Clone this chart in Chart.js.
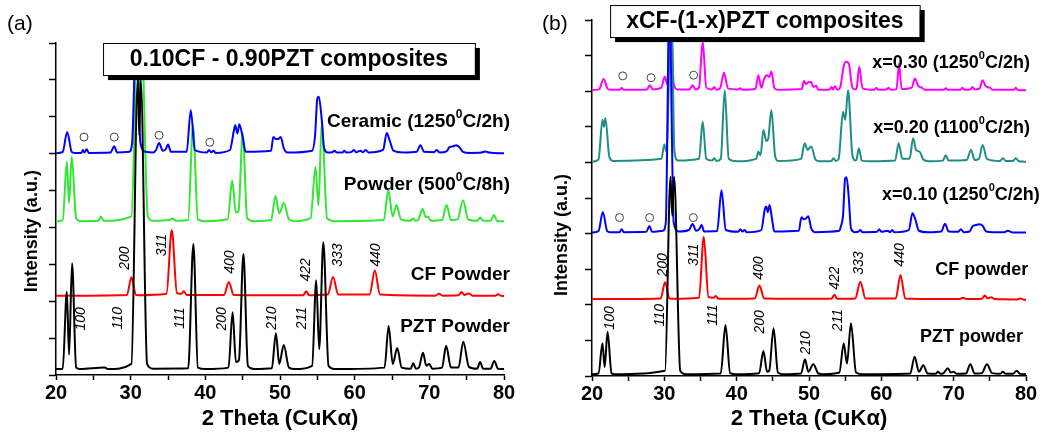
<!DOCTYPE html>
<html>
<head>
<meta charset="utf-8">
<script src="https://cdn.jsdelivr.net/npm/chart.js@4.4.0/dist/chart.umd.min.js"></script>
<style>
  body { margin: 0; background: #fff; }
  #wrapA { position: absolute; left: 0; top: 0; }
  #wrapB { position: absolute; left: 520px; top: 0; }
</style>
</head>
<body>
<div id="wrapA"><canvas id="chartA" width="520" height="433"></canvas></div>
<div id="wrapB"><canvas id="chartB" width="528" height="433"></canvas></div>
<script>
const FONT = "'Liberation Sans', Arial, sans-serif";

// ---- panel (a): 0.10CF - 0.90PZT, [2theta, intensity + offset]
const pztPowderA = [[20,0.16],[20.9,0.17],[21.45,2.26],[21.75,0.55],[22.15,3.03],[22.7,0.2],[23.2,0.16],[26.5,0.2],[27,0.16],[30.1,0.3],[30.95,8.0],[31.15,6.5],[31.35,8.0],[32.2,0.3],[33,0.17],[37.7,0.18],[38.4,3.55],[39.0,0.2],[40,0.16],[43.1,0.2],[43.65,1.7],[44.1,0.35],[44.5,0.4],[45.1,3.28],[45.7,0.25],[46.5,0.16],[48.9,0.18],[49.45,1.13],[49.9,0.3],[50.5,0.81],[51.2,0.2],[52,0.16],[54.3,0.25],[54.85,2.57],[55.25,0.7],[55.8,3.6],[56.5,0.25],[57.5,0.16],[64.0,0.2],[64.55,1.33],[65.1,0.3],[65.7,0.73],[66.3,0.2],[67.5,0.17],[67.85,0.32],[68.2,0.17],[68.6,0.2],[69.15,0.6],[69.6,0.25],[70.0,0.3],[70.4,0.17],[71.7,0.2],[72.25,0.79],[72.9,0.2],[73.9,0.2],[74.55,0.9],[75.3,0.22],[76.4,0.17],[76.8,0.35],[77.2,0.17],[78.2,0.17],[78.7,0.38],[79.2,0.17],[80,0.16]];
const cfPowderA = [[20,2.15],[29.5,2.17],[30.1,2.65],[30.7,2.17],[31,2.16],[34.8,2.2],[35.5,3.93],[36.2,2.22],[36.8,2.2],[37.1,2.27],[37.5,2.17],[42.5,2.17],[43.15,2.52],[43.8,2.17],[53.1,2.16],[53.5,2.27],[53.9,2.16],[56.4,2.18],[57.1,2.66],[57.8,2.18],[62.0,2.18],[62.7,2.83],[63.4,2.18],[70.8,2.15],[71.3,2.2],[71.8,2.15],[73.9,2.16],[74.3,2.25],[74.7,2.17],[75.3,2.21],[75.8,2.15],[78.8,2.15],[79.2,2.19],[79.6,2.15],[80,2.14]];
const powder500A = [[20,4.17],[20.9,4.2],[21.45,5.78],[21.75,4.66],[22.1,5.92],[22.7,4.25],[23.2,4.17],[25.7,4.18],[26.0,4.3],[26.4,4.18],[30.1,4.3],[30.95,9.5],[31.15,7],[31.4,9.5],[32.3,4.3],[33,4.18],[35.2,4.2],[35.6,4.25],[36.1,4.18],[37.7,4.2],[38.35,6.77],[39.0,4.22],[40,4.17],[43.0,4.22],[43.6,5.27],[44.1,4.4],[44.45,4.45],[45.0,6.56],[45.6,4.25],[46.5,4.17],[48.8,4.2],[49.4,4.85],[49.9,4.38],[50.5,4.66],[51.2,4.22],[52,4.17],[54.1,4.25],[54.75,5.64],[55.15,4.6],[55.6,6.86],[56.3,4.25],[57.5,4.17],[63.9,4.2],[64.5,5.01],[65.1,4.3],[65.6,4.61],[66.2,4.22],[67.5,4.18],[67.8,4.25],[68.1,4.18],[68.5,4.2],[69.1,4.5],[69.5,4.28],[69.8,4.3],[70.2,4.18],[71.7,4.2],[72.3,4.61],[72.9,4.2],[73.8,4.22],[74.5,4.74],[75.2,4.22],[76.4,4.18],[76.8,4.27],[77.2,4.18],[78.2,4.18],[78.65,4.34],[79.1,4.17],[80,4.17]];
const ceramicA = [[20,6.01],[20.9,6.05],[21.5,6.59],[22.1,6.05],[22.5,6.02],[23.4,6.02],[23.6,6.1],[23.8,6.03],[24.1,6.12],[24.4,6.02],[27.3,6.03],[27.8,6.2],[28.2,6.03],[29.8,6.05],[30.2,6.3],[30.75,9.5],[31.3,6.3],[32,6.05],[33.0,6.03],[33.4,6.1],[33.8,6.29],[34.3,6.08],[34.7,6.12],[35.0,6.25],[35.4,6.05],[37.5,6.05],[38.05,7.18],[38.6,6.1],[40.2,6.03],[40.5,6.1],[40.8,6.04],[41.1,6.08],[41.4,6.02],[43.3,6.1],[43.8,6.6],[44.0,6.77],[44.3,6.55],[44.55,6.8],[45.0,6.45],[45.4,6.05],[48.8,6.08],[49.1,6.45],[49.4,6.4],[49.8,6.4],[50.1,6.45],[50.5,6.15],[51,6.03],[54.3,6.08],[54.7,6.5],[55.0,7.5],[55.2,7.54],[55.6,6.9],[55.9,6.15],[56.4,6.03],[57.0,6.04],[57.3,6.08],[57.6,6.03],[58.4,6.03],[58.6,6.08],[58.9,6.03],[59.6,6.05],[59.9,6.1],[60.2,6.04],[60.8,6.08],[61.1,6.04],[61.5,6.1],[61.9,6.03],[63.8,6.1],[64.3,6.56],[64.7,6.35],[65.2,6.08],[66.5,6.03],[68.3,6.05],[68.8,6.23],[69.3,6.05],[70.6,6.04],[71.0,6.1],[71.4,6.03],[72.3,6.06],[72.7,6.18],[73.2,6.2],[73.6,6.23],[74.0,6.18],[74.5,6.05],[75.5,6.02],[77.0,6.03],[77.5,6.06],[78.0,6.03],[80,6.01]];
const impurityA = [[23.75,6.45],[27.8,6.45],[33.8,6.5],[40.6,6.31]];

// ---- panel (b): xCF-(1-x)PZT
const pztPowderB = [[20,0.05],[20.9,0.07],[21.45,0.92],[21.75,0.25],[22.15,1.24],[22.7,0.08],[23.2,0.05],[30.1,0.15],[30.85,5.6],[31.1,4.5],[31.35,5.6],[32.2,0.15],[33,0.05],[37.8,0.07],[38.45,1.43],[39.1,0.08],[40,0.05],[43.1,0.08],[43.7,0.7],[44.2,0.12],[44.5,0.15],[45.1,1.34],[45.7,0.1],[46.5,0.05],[48.9,0.07],[49.45,0.47],[49.9,0.12],[50.6,0.33],[51.3,0.07],[52,0.05],[54.2,0.1],[54.8,0.92],[55.25,0.35],[55.8,1.48],[56.5,0.1],[57.5,0.05],[64.0,0.07],[64.6,0.54],[65.2,0.12],[65.8,0.3],[66.4,0.07],[67.5,0.06],[67.85,0.12],[68.2,0.06],[68.6,0.08],[69.2,0.22],[69.6,0.1],[70.0,0.12],[70.4,0.06],[71.7,0.07],[72.3,0.33],[72.9,0.07],[73.9,0.08],[74.6,0.33],[75.3,0.08],[76.4,0.06],[76.8,0.12],[77.2,0.06],[78.2,0.06],[78.7,0.15],[79.2,0.06],[80,0.05]];
const cfPowderB = [[20,2.16],[29.5,2.18],[30.1,2.63],[30.7,2.18],[31,2.17],[34.8,2.2],[35.45,3.91],[36.1,2.22],[36.8,2.2],[37.1,2.25],[37.5,2.17],[42.5,2.18],[43.15,2.54],[43.8,2.18],[53.1,2.17],[53.5,2.28],[53.9,2.17],[56.4,2.18],[57.1,2.65],[57.8,2.18],[62.0,2.18],[62.65,2.84],[63.3,2.18],[70.8,2.16],[71.3,2.2],[71.8,2.16],[73.9,2.17],[74.3,2.26],[74.7,2.18],[75.2,2.21],[75.7,2.16],[78.8,2.15],[79.2,2.18],[79.6,2.15],[80,2.14]];
const x010B = [[20,4.03],[20.9,4.07],[21.5,4.61],[22.1,4.07],[22.5,4.04],[23.8,4.04],[24.1,4.12],[24.4,4.04],[27.5,4.05],[27.95,4.21],[28.3,4.05],[29.8,4.08],[30.2,4.3],[30.7,10.5],[31.3,4.3],[32,4.06],[33.4,4.1],[33.9,4.27],[34.4,4.08],[34.8,4.12],[35.15,4.24],[35.5,4.06],[37.3,4.07],[37.9,5.22],[38.5,4.1],[40.2,4.05],[40.5,4.12],[40.8,4.06],[41.1,4.1],[41.4,4.04],[43.4,4.1],[43.9,4.7],[44.1,4.76],[44.3,4.6],[44.55,4.8],[44.9,4.4],[45.2,4.06],[48.6,4.08],[48.95,4.46],[49.3,4.4],[49.6,4.43],[49.9,4.49],[50.3,4.15],[50.8,4.04],[54.2,4.08],[54.4,4.2],[54.7,4.5],[55.0,5.55],[55.2,5.58],[55.5,5.0],[55.8,4.15],[56.3,4.04],[56.8,4.05],[57.1,4.1],[57.4,4.04],[59.4,4.05],[59.7,4.12],[60.0,4.05],[60.9,4.08],[61.2,4.04],[61.5,4.1],[61.8,4.04],[63.8,4.1],[64.3,4.57],[64.7,4.4],[65.2,4.08],[66.5,4.04],[68.3,4.06],[68.8,4.28],[69.3,4.06],[70.6,4.05],[71.0,4.12],[71.4,4.04],[72.2,4.06],[72.6,4.2],[73.1,4.24],[73.6,4.26],[74.0,4.22],[74.5,4.06],[75.5,4.04],[77.0,4.04],[77.5,4.08],[78.0,4.04],[80,4.03]];
const x020B = [[20,6.02],[20.9,6.08],[21.45,7.2],[21.65,7.0],[21.85,7.24],[22.4,6.15],[22.9,6.04],[29.6,6.1],[30.0,6.5],[30.3,6.3],[30.95,10.5],[31.4,6.3],[31.9,6.05],[34.8,6.1],[35.3,7.14],[35.8,6.1],[36.6,6.05],[36.9,6.12],[37.2,6.04],[37.8,6.1],[38.35,8.03],[38.9,6.1],[40,6.03],[42.7,6.1],[43.0,6.3],[43.3,6.2],[43.7,6.91],[44.1,6.6],[44.35,6.65],[44.8,7.47],[45.3,6.2],[45.7,6.04],[48.9,6.1],[49.4,6.54],[49.8,6.35],[50.3,6.45],[50.9,6.08],[51.5,6.03],[53.1,6.04],[53.4,6.12],[53.7,6.04],[54.1,6.1],[54.7,7.42],[55.0,7.2],[55.4,8.03],[56.0,6.2],[56.4,6.05],[56.6,6.1],[56.9,6.4],[57.3,6.05],[58.5,6.03],[61.9,6.05],[62.4,6.54],[62.9,6.1],[63.9,6.1],[64.4,6.68],[64.8,6.35],[65.3,6.3],[65.8,6.08],[66.5,6.03],[68.5,6.05],[68.9,6.2],[69.3,6.05],[71.8,6.07],[72.4,6.35],[72.9,6.07],[73.5,6.1],[74.0,6.49],[74.6,6.1],[76.4,6.04],[76.8,6.12],[77.2,6.04],[78.2,6.04],[78.6,6.12],[79.0,6.03],[80,6.02]];
const x030B = [[20,8.03],[21.0,8.06],[21.6,8.34],[22.2,8.06],[22.6,8.04],[23.8,8.04],[24.1,8.09],[24.4,8.04],[27.6,8.05],[28.0,8.17],[28.4,8.05],[29.6,8.1],[30.05,8.41],[30.4,8.2],[30.85,10.5],[31.3,8.2],[31.8,8.05],[33.5,8.05],[33.9,8.17],[34.3,8.05],[34.8,8.1],[35.3,9.4],[35.8,8.1],[36.6,8.05],[36.9,8.12],[37.2,8.04],[37.7,8.08],[38.25,8.52],[38.8,8.08],[40.2,8.05],[40.5,8.08],[40.8,8.04],[42.6,8.06],[43.0,8.45],[43.4,8.1],[43.8,8.35],[44.2,8.45],[44.5,8.4],[44.8,8.55],[45.2,8.1],[45.6,8.04],[49.0,8.06],[49.3,8.29],[49.6,8.2],[49.9,8.25],[50.3,8.26],[50.6,8.12],[51.0,8.15],[51.3,8.04],[52.8,8.04],[53.1,8.12],[53.3,8.05],[53.6,8.14],[53.9,8.04],[54.3,8.1],[54.8,8.7],[55.1,8.83],[55.5,8.78],[56.0,8.1],[56.4,8.05],[56.6,8.1],[56.95,8.69],[57.4,8.08],[59.0,8.04],[59.3,8.1],[59.6,8.04],[60.7,8.05],[61.0,8.1],[61.3,8.04],[62.1,8.06],[62.45,8.78],[62.8,8.06],[64.2,8.1],[64.65,8.36],[65.1,8.15],[65.6,8.1],[66.0,8.04],[68.6,8.04],[68.9,8.08],[69.2,8.04],[70.9,8.04],[71.2,8.1],[71.5,8.04],[72.3,8.05],[72.6,8.12],[72.9,8.05],[73.6,8.08],[74.0,8.31],[74.4,8.15],[75.0,8.1],[75.4,8.04],[76.8,8.04],[78.3,8.04],[78.6,8.1],[78.9,8.03],[80,8.03]];
const impurityB = [[24.25,8.43],[28.16,8.38],[34.06,8.45],[23.8,4.45],[27.97,4.45],[34.0,4.45]];

// text annotations (anchored in data coordinates)
const labelsA = [[80.8,6.86,'Ceramic (1250^0^C/2h)'],[80.8,5.15,'Powder (500^0^C/8h)'],[80.8,2.71,'CF Powder'],[80.8,1.30,'PZT Powder']];
const hklA = [[23.35,1.52,'100'],[28.3,1.54,'110'],[36.6,1.54,'111'],[42.2,1.52,'200'],[48.9,1.54,'210'],[52.9,1.54,'211'],
              [29.25,3.17,'200'],[34.2,3.52,'311'],[43.3,3.06,'400'],[53.5,2.85,'422'],[57.75,3.25,'333'],[62.85,3.25,'440']];
const labelsB = [[80.55,8.79,'x=0.30 (1250^0^C/2h)'],[80.55,6.97,'x=0.20 (1100^0^C/2h)'],[81.9,5.08,'x=0.10 (1250^0^C/2h)'],[80.3,2.98,'CF powder'],[79.6,1.10,'PZT powder']];
const hklB = [[22.5,1.63,'100'],[29.4,1.71,'110'],[36.7,1.71,'111'],[43.2,1.52,'200'],[49.6,0.93,'210'],[54.0,1.57,'211'],
              [29.8,3.12,'200'],[34.1,3.4,'311'],[43.1,3.03,'400'],[53.6,2.75,'422'],[56.9,3.17,'333'],[62.6,3.4,'440']];

function pts(arr) { return arr.map(p => ({x: p[0], y: p[1]})); }

function trace(data, color) {
  return { data: pts(data), borderColor: color, borderWidth: 2, pointRadius: 0,
           cubicInterpolationMode: 'monotone', fill: false };
}

function circles(data) {
  return { data: pts(data), showLine: false, pointRadius: 4, pointBorderWidth: 1,
           pointBackgroundColor: '#fff', pointBorderColor: '#444' };
}

function drawSup(ctx, text, right, cy, size) {
  const parts = text.split('^');
  const big = 'bold ' + size + 'px ' + FONT;
  const small = 'bold ' + Math.round(size * 0.62) + 'px ' + FONT;
  let w = 0;
  parts.forEach((p, i) => { ctx.font = i % 2 ? small : big; w += ctx.measureText(p).width; });
  let x = right - w;
  ctx.textAlign = 'left';
  ctx.textBaseline = 'middle';
  parts.forEach((p, i) => {
    ctx.font = i % 2 ? small : big;
    ctx.fillText(p, x, i % 2 ? cy - size * 0.4 : cy);
    x += ctx.measureText(p).width;
  });
}

function decor(cfg) {
  return {
    id: 'decor',
    afterDraw(chart) {
      const ctx = chart.ctx, xs = chart.scales.x, ys = chart.scales.y;
      const px = v => xs.getPixelForValue(v), py = v => ys.getPixelForValue(v);
      ctx.save();
      ctx.fillStyle = '#000';
      ctx.font = 'italic 14px ' + FONT;
      ctx.textAlign = 'center';
      ctx.textBaseline = 'middle';
      cfg.hkl.forEach(h => {
        ctx.save();
        ctx.translate(px(h[0]), py(h[1]));
        ctx.rotate(-Math.PI / 2);
        ctx.fillText(h[2], 0, 0);
        ctx.restore();
      });
      // y axis title, sits below the middle of the axis
      ctx.save();
      ctx.font = 'bold 18px ' + FONT;
      ctx.translate(cfg.yTitleX, py(cfg.yTitleAt));
      ctx.rotate(-Math.PI / 2);
      ctx.fillText('Intensity (a.u.)', 0, 0);
      ctx.restore();
      cfg.labels.forEach(l => drawSup(ctx, l[2], px(l[0]), py(l[1]), cfg.labelSize));
      // title box with drop shadow
      const b = cfg.box;
      const x0 = px(b[0]), x1 = px(b[1]), y0 = py(b[2]), y1 = py(b[3]);
      ctx.fillStyle = '#000';
      ctx.fillRect(x0 + 5, y0 + 5, x1 - x0, y1 - y0);
      ctx.fillStyle = '#fff';
      ctx.fillRect(x0, y0, x1 - x0, y1 - y0);
      ctx.strokeStyle = '#000';
      ctx.lineWidth = 1;
      ctx.strokeRect(x0 + 0.5, y0 + 0.5, x1 - x0, y1 - y0);
      ctx.fillStyle = '#000';
      ctx.font = 'bold 23px ' + FONT;
      ctx.textAlign = 'center';
      ctx.fillText(b[4], (x0 + x1) / 2, (y0 + y1) / 2 + 1);
      // panel letter
      ctx.font = '21px ' + FONT;
      ctx.textAlign = 'left';
      ctx.fillText(cfg.letter, cfg.letterX, 24);
      ctx.restore();
    }
  };
}

function makeChart(id, datasets, ymax, yWidth, xHeight, pad, cfg) {
  return new Chart(document.getElementById(id), {
    type: 'line',
    data: { datasets: datasets },
    options: {
      responsive: false,
      animation: false,
      layout: { padding: pad },
      plugins: { legend: { display: false }, tooltip: { enabled: false } },
      scales: {
        x: {
          type: 'linear', min: 20, max: 80,
          border: { color: '#000', width: 1.5 },
          grid: { drawOnChartArea: false, tickLength: 5, tickColor: '#000', tickWidth: 1.5 },
          ticks: {
            stepSize: 5, padding: 1, color: '#000', autoSkip: false, maxRotation: 0,
            font: { family: FONT, size: 20, weight: 'bold' },
            callback: v => (v % 10 === 0 ? v : '')
          },
          title: { display: true, text: '2 Theta (CuKα)', color: '#000', padding: { top: 0, bottom: 1 },
                   font: { family: FONT, size: 22, weight: 'bold' } },
          afterFit: s => { s.height = xHeight; }
        },
        y: {
          min: 0, max: ymax,
          border: { color: '#000', width: 1.5 },
          grid: { drawOnChartArea: false, tickLength: 7, tickColor: '#000', tickWidth: 1.5 },
          ticks: { stepSize: 1, display: false },
          afterFit: s => { s.width = yWidth; }
        }
      }
    },
    plugins: [decor(cfg)]
  });
}

makeChart('chartA', [
    circles(impurityA),
    trace(pztPowderA, '#000000'),
    trace(cfPowderA, '#ff0000'),
    trace(ceramicA, '#0000ff'),
    trace(powder500A, '#33e633')
  ], 9, 56, 58, { top: 43, right: 16, left: 0, bottom: 0 },
  { hkl: hklA, labels: labelsA, labelSize: 19, letter: '(a)', letterX: 7, yTitleX: 32, yTitleAt: 3.9,
    box: [26.3, 76.1, 9.0, 8.13, '0.10CF - 0.90PZT composites'] });

makeChart('chartB', [
    circles(impurityB),
    trace(pztPowderB, '#000000'),
    trace(cfPowderB, '#ff0000'),
    trace(x010B, '#0000ff'),
    trace(x020B, '#1f8f86'),
    trace(x030B, '#ff00ff')
  ], 10, 72, 57, { top: 20, right: 22, left: 0, bottom: 0 },
  { hkl: hklB, labels: labelsB, labelSize: 18, letter: '(b)', letterX: 22, yTitleX: 42, yTitleAt: 3.96,
    box: [22.5, 65.3, 10.42, 9.52, 'xCF-(1-x)PZT composites'] });
</script>
</body>
</html>
